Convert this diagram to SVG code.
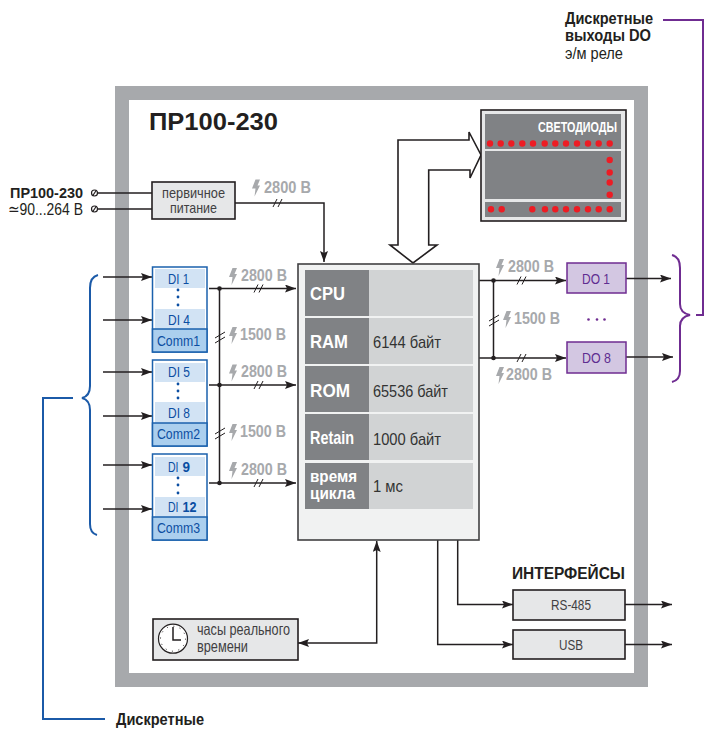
<svg xmlns="http://www.w3.org/2000/svg" xmlns:xlink="http://www.w3.org/1999/xlink" width="704" height="729" viewBox="0 0 704 729">
<style>
text{font-family:"Liberation Sans",Arial,sans-serif;fill:#231f20;font-size:15px}
.b{font-weight:700}
.v{font-weight:700;fill:#a7a9ac;font-size:16px}
.w{font-weight:700;fill:#fff}
.di{fill:#0b4ea2;font-size:15.500px}
.do{fill:#5f2d91;font-size:15.500px}
.val{fill:#333;font-size:17px}
.t{fill:#414042;font-size:16.500px}
.ln{fill:none;stroke:#231f20;stroke-width:1.5}
.sl{fill:none;stroke:#231f20;stroke-width:1}
.box{fill:#e6e7e8;stroke:#231f20;stroke-width:1.6}
.blk{fill:#fff;stroke:#1b61ad;stroke-width:1.5}
.cell{fill:#d2e3f4}
.comm{fill:#abcfee;stroke:#1b61ad;stroke-width:1.5}
.dot{fill:#0b4ea2}
.led{fill:#ed1c24}
.dk{fill:#808285}
.lt{fill:#d1d3d4}
.dob{fill:#d3c7e2;stroke:#6f2c91;stroke-width:1.5}
.br{fill:none;stroke:#6f2c91;stroke-width:2}
.bb{fill:none;stroke:#1b5aa8;stroke-width:2}
</style>
<defs>
<marker id="a" markerUnits="userSpaceOnUse" markerWidth="12" markerHeight="8" refX="11" refY="4" orient="auto-start-reverse"><path d="M0 0L11 4L0 8L2 4Z" fill="#231f20"/></marker>
<path id="bolt" d="M4 0L8.5 0L6 6L8.5 6L3 17L4 9L0.5 9Z" fill="#a7a9ac"/>
<path id="sl" d="M-5 4L-1 -4M0 4L4 -4" class="sl"/>
<path id="sv" d="M-6 -1L4 -7M-6 4L4 -2" class="sl"/>
</defs>

<path id="frame" fill-rule="evenodd" fill="#a7a9ac" d="M115 86H648V687H115ZM129 100V673H634V100Z"/>
<text x="149" y="130" class="b" style="font-size:24px" textLength="129" lengthAdjust="spacingAndGlyphs">ПР100-230</text>

<g id="connectors">
<path class="ln" d="M98 193H152M98 209H152"/>
<path class="ln" marker-end="url(#a)" d="M235 203H324V262"/>
<path class="ln" marker-end="url(#a)" d="M103 277H152"/>
<path class="ln" marker-end="url(#a)" d="M103 320H152"/>
<path class="ln" marker-end="url(#a)" d="M103 372H152"/>
<path class="ln" marker-end="url(#a)" d="M103 416H152"/>
<path class="ln" marker-end="url(#a)" d="M103 465H152"/>
<path class="ln" marker-end="url(#a)" d="M103 509H152"/>
<path class="ln" marker-end="url(#a)" d="M209 288.5H296"/>
<path class="ln" marker-end="url(#a)" d="M209 385H296"/>
<path class="ln" marker-end="url(#a)" d="M209 483H296"/>
<path class="ln" d="M219.500 288.500V483"/>
<circle cx="219.500" cy="288.500" r="2.300" fill="#231f20"/>
<circle cx="219.500" cy="385" r="2.300" fill="#231f20"/>
<circle cx="219.500" cy="483" r="2.300" fill="#231f20"/>
<use xlink:href="#sl" href="#sl" x="259" y="288.500"/>
<use xlink:href="#sl" href="#sl" x="259" y="385"/>
<use xlink:href="#sl" href="#sl" x="259" y="483"/>
<use xlink:href="#sl" href="#sl" x="278" y="203"/>
<use xlink:href="#sv" href="#sv" x="221" y="339"/>
<use xlink:href="#sv" href="#sv" x="221" y="435"/>
<path class="ln" marker-end="url(#a)" d="M479 280.500H566"/>
<path class="ln" marker-end="url(#a)" d="M479 358H566"/>
<path class="ln" d="M493.500 280.500V358"/>
<circle cx="493.500" cy="280.500" r="2.300" fill="#231f20"/>
<circle cx="493.500" cy="358" r="2.300" fill="#231f20"/>
<use xlink:href="#sl" href="#sl" x="522" y="280.500"/>
<use xlink:href="#sl" href="#sl" x="522" y="358"/>
<use xlink:href="#sv" href="#sv" x="495" y="322"/>
<path class="ln" marker-end="url(#a)" d="M626 278.500H671"/>
<path class="ln" marker-end="url(#a)" d="M626 357H673"/>
<path class="ln" marker-start="url(#a)" marker-end="url(#a)" d="M298 643H376.700V541"/>
<path class="ln" marker-end="url(#a)" d="M457.700 540V604.500H513"/>
<path class="ln" marker-end="url(#a)" d="M437.700 540V644.500H513"/>
<path class="ln" marker-end="url(#a)" d="M625 604.500H672"/>
<path class="ln" marker-end="url(#a)" d="M625 644.500H672"/>
<path fill="#fff" stroke="#231f20" stroke-width="1.600" d="M398 245V140H469V132L481 155L470 178V170H428.700V245H437L413 263L390 245Z"/>
<path class="br" d="M663 20H703V315H696"/>
<path class="br" d="M672 255Q680 257 680 268V304Q680 313 690 315Q680 317 680 326V371Q680 380 672 382"/>
<path class="bb" d="M98 275Q90 277 90 288V386Q90 396 82 398Q90 400 90 410V524Q90 533 97 535"/>
<path class="bb" d="M73 398H43V719H105"/>
</g>

<g id="terminals" fill="#fff" stroke="#231f20" stroke-width="1.200">
<circle cx="94.500" cy="193" r="3"/><path d="M92.500 196L96.500 190"/>
<circle cx="94.500" cy="209" r="3"/><path d="M92.500 212L96.500 206"/>
</g>
<text id="power-label" x="10" y="198" class="b" style="font-size:15.500px" textLength="73" lengthAdjust="spacingAndGlyphs">ПР100-230</text>
<text x="8" y="215" style="font-size:17px" textLength="75" lengthAdjust="spacingAndGlyphs">≃90...264 В</text>

<g id="power">
<rect class="box" x="152" y="182" width="83" height="37"/>
<text class="t" style="font-size:15px" x="162" y="197.500" textLength="63" lengthAdjust="spacingAndGlyphs">первичное</text>
<text class="t" style="font-size:15px" x="170" y="212.500" textLength="47" lengthAdjust="spacingAndGlyphs">питание</text>
</g>

<g id="di1">
<rect class="blk" x="152.500" y="267" width="54.500" height="85"/>
<rect class="cell" x="155" y="269" width="50" height="19"/>
<rect class="cell" x="155" y="309" width="50" height="20"/>
<rect class="comm" x="152.500" y="329" width="54.500" height="23"/>
<circle class="dot" cx="178" cy="290" r="1.400"/><circle class="dot" cx="178" cy="297" r="1.400"/><circle class="dot" cx="178" cy="305" r="1.400"/>
<text class="di" x="168" y="284" textLength="21" lengthAdjust="spacingAndGlyphs">DI 1</text>
<text class="di" x="168" y="324.500" textLength="22" lengthAdjust="spacingAndGlyphs">DI 4</text>
<text class="di" x="157" y="346" textLength="43" lengthAdjust="spacingAndGlyphs">Comm1</text>
</g>
<g id="di2">
<rect class="blk" x="152.500" y="360" width="54.500" height="86"/>
<rect class="cell" x="155" y="363" width="50" height="19"/>
<rect class="cell" x="155" y="402" width="50" height="21"/>
<rect class="comm" x="152.500" y="423" width="54.500" height="23"/>
<circle class="dot" cx="178" cy="384" r="1.400"/><circle class="dot" cx="178" cy="391" r="1.400"/><circle class="dot" cx="178" cy="398" r="1.400"/>
<text class="di" x="168" y="377" textLength="22" lengthAdjust="spacingAndGlyphs">DI 5</text>
<text class="di" x="168" y="418" textLength="22" lengthAdjust="spacingAndGlyphs">DI 8</text>
<text class="di" x="157" y="438.500" textLength="43" lengthAdjust="spacingAndGlyphs">Comm2</text>
</g>
<g id="di3">
<rect class="blk" x="152.500" y="454" width="54.500" height="86"/>
<rect class="cell" x="155" y="457" width="50" height="19"/>
<rect class="cell" x="155" y="497" width="50" height="20"/>
<rect class="comm" x="152.500" y="517" width="54.500" height="23"/>
<circle class="dot" cx="178" cy="478" r="1.400"/><circle class="dot" cx="178" cy="485" r="1.400"/><circle class="dot" cx="178" cy="493" r="1.400"/>
<text class="di" x="168" y="472" textLength="10.500" lengthAdjust="spacingAndGlyphs">DI</text>
<text class="di b" x="182.500" y="472" textLength="7.500" lengthAdjust="spacingAndGlyphs">9</text>
<text class="di" x="168" y="512" textLength="10.500" lengthAdjust="spacingAndGlyphs">DI</text>
<text class="di b" x="182.500" y="512" textLength="14" lengthAdjust="spacingAndGlyphs">12</text>
<text class="di" x="157" y="533" textLength="43" lengthAdjust="spacingAndGlyphs">Comm3</text>
</g>

<g id="cpu">
<rect x="298" y="264" width="181" height="276" fill="#f1f2f2" stroke="#414042" stroke-width="1.600"/>
<rect class="lt" x="305" y="270" width="168" height="46"/><rect class="dk" x="305" y="270" width="64" height="46"/>
<rect class="lt" x="305" y="318" width="168" height="46"/><rect class="dk" x="305" y="318" width="64" height="46"/>
<rect class="lt" x="305" y="366" width="168" height="46"/><rect class="dk" x="305" y="366" width="64" height="46"/>
<rect class="lt" x="305" y="414" width="168" height="46"/><rect class="dk" x="305" y="414" width="64" height="46"/>
<rect class="lt" x="305" y="463" width="168" height="46"/><rect class="dk" x="305" y="463" width="64" height="46"/>
<text class="w" style="font-size:19px" x="310" y="300" textLength="35" lengthAdjust="spacingAndGlyphs">CPU</text>
<text class="w" style="font-size:19px" x="310" y="348" textLength="38" lengthAdjust="spacingAndGlyphs">RAM</text>
<text class="w" style="font-size:19px" x="310" y="397" textLength="40" lengthAdjust="spacingAndGlyphs">ROM</text>
<text class="w" style="font-size:19px" x="310" y="444" textLength="44" lengthAdjust="spacingAndGlyphs">Retain</text>
<text class="w" style="font-size:16px" x="310" y="482" textLength="47" lengthAdjust="spacingAndGlyphs">время</text>
<text class="w" style="font-size:16px" x="310" y="499" textLength="45" lengthAdjust="spacingAndGlyphs">цикла</text>
<text class="val" x="373" y="348" textLength="68" lengthAdjust="spacingAndGlyphs">6144 байт</text>
<text class="val" x="373" y="397" textLength="75" lengthAdjust="spacingAndGlyphs">65536 байт</text>
<text class="val" x="373" y="445" textLength="68" lengthAdjust="spacingAndGlyphs">1000 байт</text>
<text class="val" x="373" y="491.500" textLength="30" lengthAdjust="spacingAndGlyphs">1 мс</text>
</g>

<g id="leds">
<rect x="481" y="110" width="145" height="111" fill="#e6e7e8" stroke="#231f20" stroke-width="1.600"/>
<rect class="dk" x="485" y="114" width="136" height="35"/>
<rect class="dk" x="485" y="151" width="136" height="48"/>
<rect class="dk" x="485" y="202" width="136" height="15"/>
<text class="w" style="font-size:15px" x="538" y="132" textLength="79" lengthAdjust="spacingAndGlyphs">СВЕТОДИОДЫ</text>
<g class="led">
<circle cx="490" cy="143.500" r="3.200"/><circle cx="500.700" cy="143.500" r="3.200"/><circle cx="511.300" cy="143.500" r="3.200"/><circle cx="522.300" cy="143.500" r="3.200"/><circle cx="533" cy="143.500" r="3.200"/><circle cx="544.700" cy="143.500" r="3.200"/><circle cx="555.300" cy="143.500" r="3.200"/><circle cx="566" cy="143.500" r="3.200"/><circle cx="577" cy="143.500" r="3.200"/><circle cx="588" cy="143.500" r="3.200"/><circle cx="598.700" cy="143.500" r="3.200"/><circle cx="609.700" cy="143.500" r="3.200"/>
<circle cx="609.700" cy="160" r="3.200"/><circle cx="609.700" cy="172.500" r="3.200"/><circle cx="609.700" cy="182.500" r="3.200"/><circle cx="609.700" cy="194.700" r="3.200"/>
<circle cx="491" cy="209.300" r="3.200"/><circle cx="501.700" cy="209.300" r="3.200"/><circle cx="532.300" cy="209.300" r="3.200"/><circle cx="545" cy="209.300" r="3.200"/><circle cx="555.300" cy="209.300" r="3.200"/><circle cx="566" cy="209.300" r="3.200"/><circle cx="577" cy="209.300" r="3.200"/><circle cx="588" cy="209.300" r="3.200"/><circle cx="598.700" cy="209.300" r="3.200"/><circle cx="609.700" cy="209.300" r="3.200"/>
</g>
</g>

<g id="do1">
<rect class="dob" x="567" y="263" width="59" height="30"/>
<text class="do" x="582" y="284" textLength="28" lengthAdjust="spacingAndGlyphs">DO 1</text>
</g>
<g id="do8">
<rect class="dob" x="567" y="342" width="59" height="31"/>
<text class="do" x="582" y="363" textLength="29" lengthAdjust="spacingAndGlyphs">DO 8</text>
</g>
<g fill="#6f2c91"><circle cx="588.500" cy="319.500" r="1.300"/><circle cx="597" cy="319.500" r="1.300"/><circle cx="604.500" cy="319.500" r="1.300"/></g>

<g id="voltages">
<use xlink:href="#bolt" href="#bolt" x="251.500" y="179.500"/><text class="v" x="264" y="193" textLength="47" lengthAdjust="spacingAndGlyphs">2800 В</text>
<use xlink:href="#bolt" href="#bolt" x="228.500" y="268"/><text class="v" x="241" y="281" textLength="46" lengthAdjust="spacingAndGlyphs">2800 В</text>
<use xlink:href="#bolt" href="#bolt" x="228.500" y="327"/><text class="v" x="240" y="340" textLength="46" lengthAdjust="spacingAndGlyphs">1500 В</text>
<use xlink:href="#bolt" href="#bolt" x="228.500" y="364.500"/><text class="v" x="241" y="377" textLength="46" lengthAdjust="spacingAndGlyphs">2800 В</text>
<use xlink:href="#bolt" href="#bolt" x="228.500" y="424"/><text class="v" x="240" y="437" textLength="46" lengthAdjust="spacingAndGlyphs">1500 В</text>
<use xlink:href="#bolt" href="#bolt" x="228.500" y="462"/><text class="v" x="241" y="475" textLength="46" lengthAdjust="spacingAndGlyphs">2800 В</text>
<use xlink:href="#bolt" href="#bolt" x="495.500" y="259"/><text class="v" x="508" y="272" textLength="46" lengthAdjust="spacingAndGlyphs">2800 В</text>
<use xlink:href="#bolt" href="#bolt" x="502.500" y="311"/><text class="v" x="514" y="324" textLength="46" lengthAdjust="spacingAndGlyphs">1500 В</text>
<use xlink:href="#bolt" href="#bolt" x="495.500" y="367"/><text class="v" x="506" y="380" textLength="46" lengthAdjust="spacingAndGlyphs">2800 В</text>
</g>

<g id="clock">
<rect class="box" x="153" y="619" width="145" height="41"/>
<circle cx="173" cy="638.700" r="14.500" fill="#fff" stroke="#231f20" stroke-width="1.200"/>
<circle cx="173" cy="638.700" r="12.500" fill="none" stroke="#231f20" stroke-width="1" stroke-dasharray="1 5.540"/>
<path d="M173 627V640H181" fill="none" stroke="#231f20" stroke-width="1.500"/>
<text class="t" x="197" y="635" textLength="93" lengthAdjust="spacingAndGlyphs">часы реального</text>
<text class="t" x="197" y="651.500" textLength="51" lengthAdjust="spacingAndGlyphs">времени</text>
</g>

<text class="b" style="font-size:16px" x="512" y="579" textLength="113" lengthAdjust="spacingAndGlyphs">ИНТЕРФЕЙСЫ</text>
<g id="rs485">
<rect class="box" x="513" y="590" width="112" height="30"/>
<text class="t" style="font-size:15.500px" x="551" y="610" textLength="40" lengthAdjust="spacingAndGlyphs">RS-485</text>
</g>
<g id="usb">
<rect class="box" x="513" y="630" width="112" height="29"/>
<text class="t" style="font-size:15.500px" x="559" y="650" textLength="24" lengthAdjust="spacingAndGlyphs">USB</text>
</g>

<g id="do-label">
<text class="b" style="font-size:16px" x="565" y="24" textLength="88" lengthAdjust="spacingAndGlyphs">Дискретные</text>
<text class="b" style="font-size:16px" x="565" y="41" textLength="86" lengthAdjust="spacingAndGlyphs">выходы DO</text>
<text style="font-size:16px" x="565" y="59" textLength="58" lengthAdjust="spacingAndGlyphs">э/м реле</text>
</g>
<text id="di-label" class="b" style="font-size:16px" x="116" y="725" textLength="88" lengthAdjust="spacingAndGlyphs">Дискретные</text>
</svg>
